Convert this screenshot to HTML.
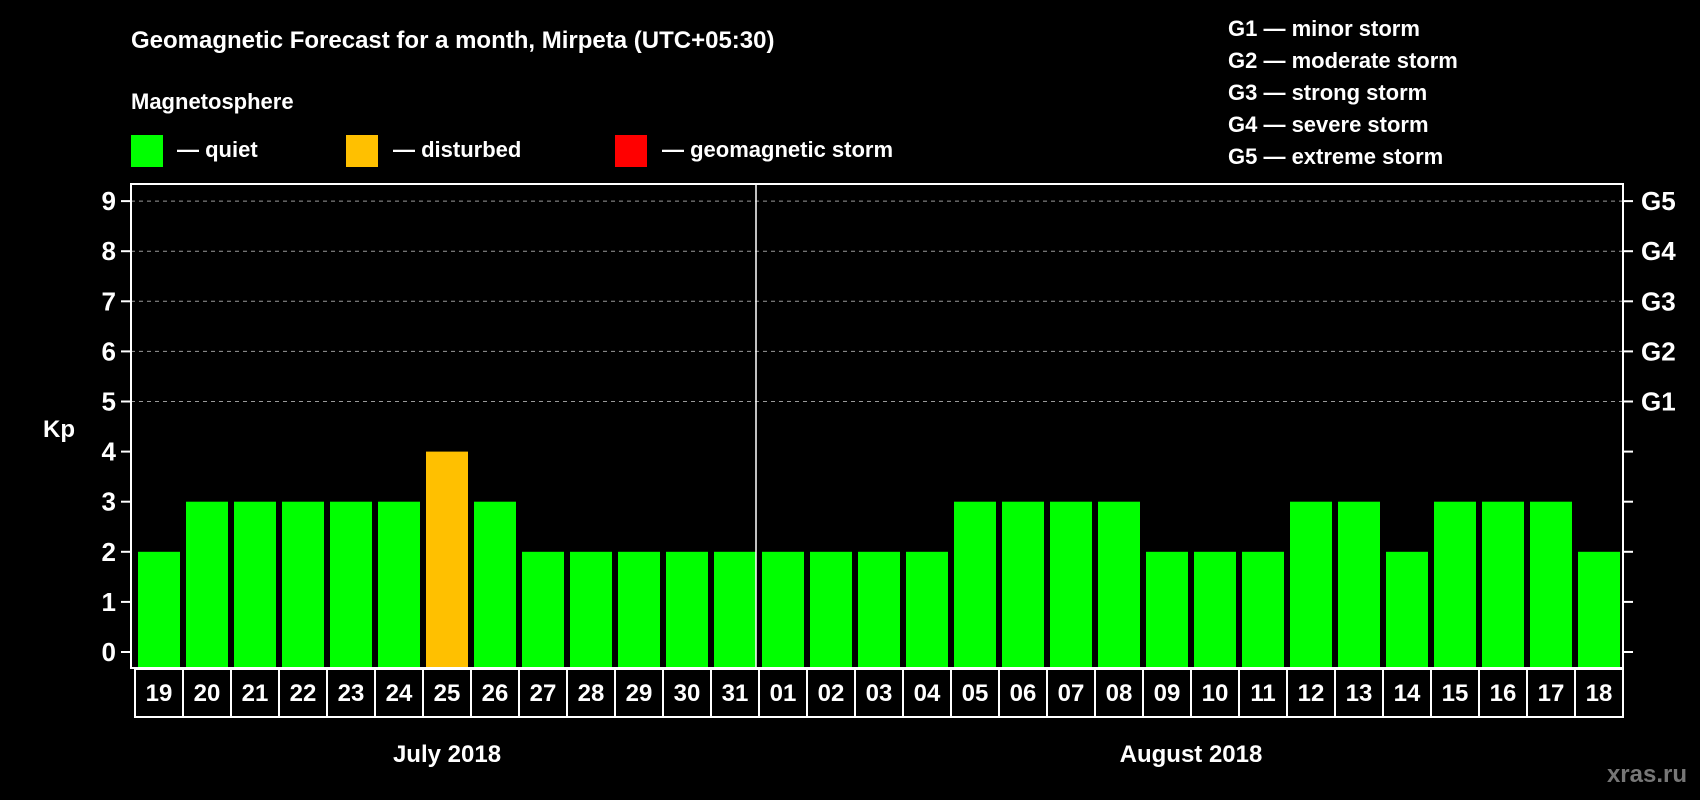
<!DOCTYPE html>
<html><head><meta charset="utf-8"><style>
body{margin:0;background:#000;}
svg{display:block;font-family:"Liberation Sans",Arial,sans-serif;font-weight:bold;}
</style></head><body>
<svg width="1700" height="800" viewBox="0 0 1700 800">
<rect width="1700" height="800" fill="#000"/>
<text x="131" y="48" fill="#fff" font-size="24">Geomagnetic Forecast for a month, Mirpeta (UTC+05:30)</text>
<text x="131" y="109" fill="#fff" font-size="22">Magnetosphere</text>
<g><rect x="131" y="135" width="32" height="32" fill="#00ff00"/><text x="177" y="157" fill="#fff" font-size="22">— quiet</text></g>
<g><rect x="346" y="135" width="32" height="32" fill="#ffc000"/><text x="393" y="157" fill="#fff" font-size="22">— disturbed</text></g>
<g><rect x="615" y="135" width="32" height="32" fill="#ff0000"/><text x="662" y="157" fill="#fff" font-size="22">— geomagnetic storm</text></g>
<g fill="#fff" font-size="22">
<text x="1228" y="36">G1 — minor storm</text>
<text x="1228" y="68">G2 — moderate storm</text>
<text x="1228" y="100">G3 — strong storm</text>
<text x="1228" y="132">G4 — severe storm</text>
<text x="1228" y="164">G5 — extreme storm</text>
</g>
<text x="43" y="437" fill="#fff" font-size="24">Kp</text>
<text x="1687" y="782" fill="#777" font-size="24" text-anchor="end">xras.ru</text>
<g id="grid"></g><g id="bars"></g><g id="axes"></g>
</svg>
<script>
const days=["19","20","21","22","23","24","25","26","27","28","29","30","31","01","02","03","04","05","06","07","08","09","10","11","12","13","14","15","16","17","18"];
const kp=[2,3,3,3,3,3,4,3,2,2,2,2,2,2,2,2,2,3,3,3,3,2,2,2,3,3,2,3,3,3,2];
const yTicks=[0,1,2,3,4,5,6,7,8,9];
const gLabels=["G1","G2","G3","G4","G5"];
const gLevels=[5,6,7,8,9];
const months=["July 2018","August 2018"];
const NS="http://www.w3.org/2000/svg";
const L=131,R=1623,T=184,B=668,Y0=652,UNIT=50.1,PITCH=48,X0=135;
const y=v=>Y0-v*UNIT;
const x=i=>X0+i*PITCH;
function mk(tag,attrs,parent,text){const e=document.createElementNS(NS,tag);for(const k in attrs)e.setAttribute(k,attrs[k]);if(text!==undefined)e.textContent=text;parent.appendChild(e);return e;}
const grid=document.getElementById('grid'),bars=document.getElementById('bars'),axes=document.getElementById('axes');
gLevels.forEach((v,i)=>{
 const g=mk('line',{x1:L,x2:R,y1:y(v),y2:y(v),stroke:'#999','stroke-dasharray':'4,4','stroke-width':1},grid);
 
 
});
kp.forEach((v,i)=>{
 const c=v>=5?'#ff0000':(v>=4?'#ffc000':'#00ff00');
 const b=mk('rect',{x:x(i)+3,y:y(v),width:42,height:Y0-y(v)+16,fill:c},bars);
 
 
});
const frame=mk('rect',{x:L,y:T,width:R-L,height:B-T,fill:'none',stroke:'#fff','stroke-width':2},axes);


const sepIdx=days.indexOf("01");
const sep=mk('line',{x1:x(sepIdx)-3,x2:x(sepIdx)-3,y1:T,y2:B,stroke:'#fff','stroke-width':1.5},axes);


yTicks.forEach(v=>{
 const t=mk('line',{x1:L-10,x2:L,y1:y(v),y2:y(v),stroke:'#fff','stroke-width':2},axes);
 
 
 const t2=mk('line',{x1:R,x2:R+10,y1:y(v),y2:y(v),stroke:'#fff','stroke-width':2},axes);
 
 
 const l=mk('text',{x:116,y:y(v)+9,fill:'#fff','font-size':26,'text-anchor':'end'},axes,String(v));
 
 
});
gLabels.forEach((g,i)=>{
 const l=mk('text',{x:1641,y:y(gLevels[i])+9,fill:'#fff','font-size':26},axes,g);
 
 
});
days.forEach((d,i)=>{
 const r=mk('rect',{x:x(i),y:669,width:PITCH,height:48,fill:'#000',stroke:'#fff','stroke-width':2},axes);
 
 
 const t=mk('text',{x:x(i)+PITCH/2,y:701,fill:'#fff','font-size':24,'text-anchor':'middle'},axes,d);
 
 
});
const mc=[(x(0)+x(sepIdx))/2,(x(sepIdx)+x(days.length))/2];
months.forEach((m,i)=>{
 const t=mk('text',{x:mc[i],y:762,fill:'#fff','font-size':24,'text-anchor':'middle'},axes,m);
 
 
});
</script>
</body></html>
